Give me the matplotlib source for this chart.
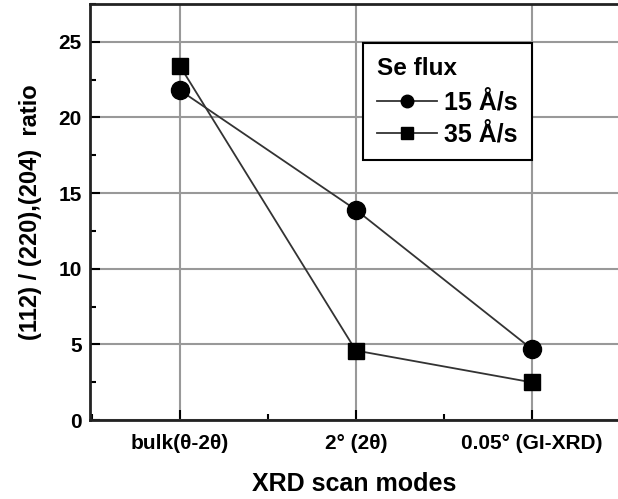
import matplotlib
matplotlib.use('Agg')
import matplotlib.pyplot as plt
from matplotlib.ticker import MultipleLocator

plt.rcParams['font.family'] = ['Liberation Sans', 'DejaVu Sans']
plt.rcParams['font.weight'] = 'bold'

# Data
modes = ['bulk(θ-2θ)', '2° (2θ)', '0.05° (GI-XRD)']
ratio_15 = [21.8, 13.9, 4.7]
ratio_35 = [23.4, 4.6, 2.5]
series_labels = ['15 Å/s', '35 Å/s']

fig = plt.figure(figsize=(6.18, 4.99), dpi=100)
ax = fig.add_axes([0.146, 0.158, 0.854, 0.834])

x = list(range(len(modes)))
ax.plot(x, ratio_15, '-', color='#333333', lw=1.3, marker='o', ms=13,
        mfc='black', mec='black', label=series_labels[0], zorder=3)
ax.plot(x, ratio_35, '-', color='#333333', lw=1.3, marker='s', ms=11.5,
        mfc='black', mec='black', label=series_labels[1], zorder=3)

ax.set_xlim(-0.51, 2.49)
ax.set_ylim(0, 27.5)
ax.set_xticks(x)
ax.set_xticklabels(modes, fontsize=14, fontweight='bold')
ax.xaxis.set_minor_locator(MultipleLocator(0.5))
ax.yaxis.set_major_locator(MultipleLocator(5))
ax.yaxis.set_minor_locator(MultipleLocator(2.5))
ax.tick_params(axis='both', which='major', direction='in', length=7, width=1.5,
               labelsize=15, pad=6)
ax.tick_params(axis='x', which='major', pad=10)
ax.tick_params(axis='both', which='minor', direction='in', length=4, width=1.5)
for lab in ax.get_yticklabels():
    lab.set_fontweight('bold')

ax.grid(True, which='major', color='#999999', lw=1.5)
ax.set_axisbelow(True)
ax.spines['right'].set_visible(False)
for s in ['left', 'bottom', 'top']:
    ax.spines[s].set_linewidth(2)
    ax.spines[s].set_color('#222222')

ax.set_xlabel('XRD scan modes', fontsize=18, fontweight='bold', labelpad=14)
ax.set_ylabel('(112) / (220),(204)  ratio', fontsize=17, fontweight='bold', labelpad=12)

leg = ax.legend(title='Se flux', loc='upper left', bbox_to_anchor=(0.517, 0.906),
                fontsize=18, title_fontproperties={'weight': 'bold', 'size': 17.5},
                frameon=True, fancybox=False, edgecolor='black', framealpha=1,
                handlelength=2.4, handletextpad=0.3, borderpad=0.55,
                labelspacing=0.3, borderaxespad=0)
leg._legend_box.align = 'left'
leg._legend_box.sep = 8
leg.get_frame().set_linewidth(1.5)
for h in leg.legend_handles:
    h.set_markersize(9)

fig.savefig('out.png', dpi=100)
